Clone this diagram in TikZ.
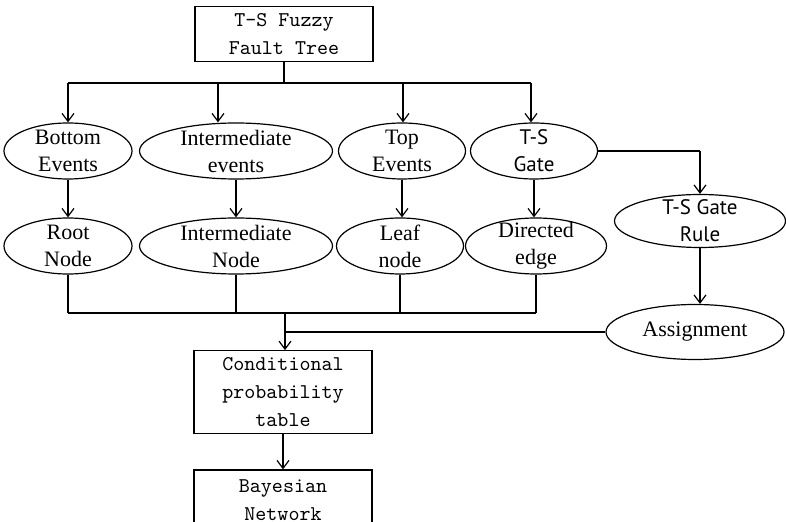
\documentclass[tikz,border=0pt]{standalone}
\usepackage{fontspec}
\setmainfont{Liberation Serif}
\newfontfamily\gatefont{PT Sans}
\usetikzlibrary{shapes, arrows.meta, positioning}

\begin{document}
\begin{tikzpicture}[x=0.5pt,y=-0.5pt,>={Straight Barb[length=4pt,width=6pt]},
	event/.style={ellipse,draw,line width=0.6pt,align=center,inner xsep=0pt,inner ysep=-4pt,minimum height=28pt,font=\fontsize{11}{13.5}\selectfont},
	gate/.style={event,font=\gatefont\fontsize{10.5}{13.5}\selectfont},
	tbox/.style={rectangle,draw,line width=0.6pt,align=center,minimum width=89pt,font=\ttfamily\fontsize{10.5}{14}\selectfont},
	bus/.style={line width=1.1pt},
	link/.style={->,line width=0.6pt}]
	\useasboundingbox (0,0) rectangle (786,522);
	\clip (0,0) rectangle (786,522);

	\node[tbox,minimum height=26pt] (ftt) at (284,34) {T-S Fuzzy\\Fault Tree};
	\coordinate (b1) at (68,83);
	\coordinate (b2) at (218,83);
	\coordinate (b3) at (403,83);
	\coordinate (b4) at (531,83);

	\node[event,minimum width=64pt] (be) at (68,151) {Bottom\\Events};
	\node[event,minimum width=96.5pt] (ie) at (236,151) {Intermediate\\events};
	\node[event,minimum width=63.5pt] (te) at (402,151) {Top\\Events};
	\node[gate,minimum width=63.5pt] (tsg) at (534,151) {T-S\\Gate};

	\node[event,minimum width=64pt] (rn) at (68,246) {Root\\Node};
	\node[event,minimum width=96.5pt] (in) at (236,246) {Intermediate\\Node};
	\node[event,minimum width=63.5pt] (ln) at (400,246) {Leaf\\node};
	\node[event,minimum width=70.5pt] (de) at (536,246) {Directed\\edge};

	\node[gate,minimum width=85.5pt,minimum height=26.5pt] (tsr) at (700,221) {T-S Gate\\Rule};
	\node[event,minimum width=89pt,minimum height=27.5pt] (asg) at (695,332) {Assignment};

	\node[tbox,minimum height=40pt] (cpt) at (283,392) {Conditional\\probability\\table};
	\node[tbox,minimum height=30pt] (bn) at (283,500) {Bayesian\\Network};

	\draw[bus] (ftt) -- (ftt |- b1);
	\draw[bus] (b1) -- (b4);
	\foreach \b/\e in {b1/be,b2/ie,b3/te,b4/tsg}
		\draw[link] (\b) -- (\b |- \e.north);
	\foreach \u/\l in {be/rn,ie/in,te/ln,tsg/de}
		\draw[link] (\u.south) -- (\u.south |- \l.north);

	\coordinate (g) at (tsr |- tsg);
	\draw[bus] (tsg) -- (g);
	\draw[link] (g) -- (tsr);
	\draw[link] (tsr) -- (tsr |- asg.north);

	\coordinate (m) at (285,313);
	\coordinate (j) at (285,332);
	\foreach \l in {rn,in,ln,de}
		\draw[bus] (\l) -- (\l |- m);
	\draw[bus] (rn |- m) -- (de |- m);
	\draw[bus] (asg) -- (j);
	\draw[link] (m) -- (m |- cpt.north);
	\draw[link] (cpt) -- (bn);
\end{tikzpicture}
\end{document}
